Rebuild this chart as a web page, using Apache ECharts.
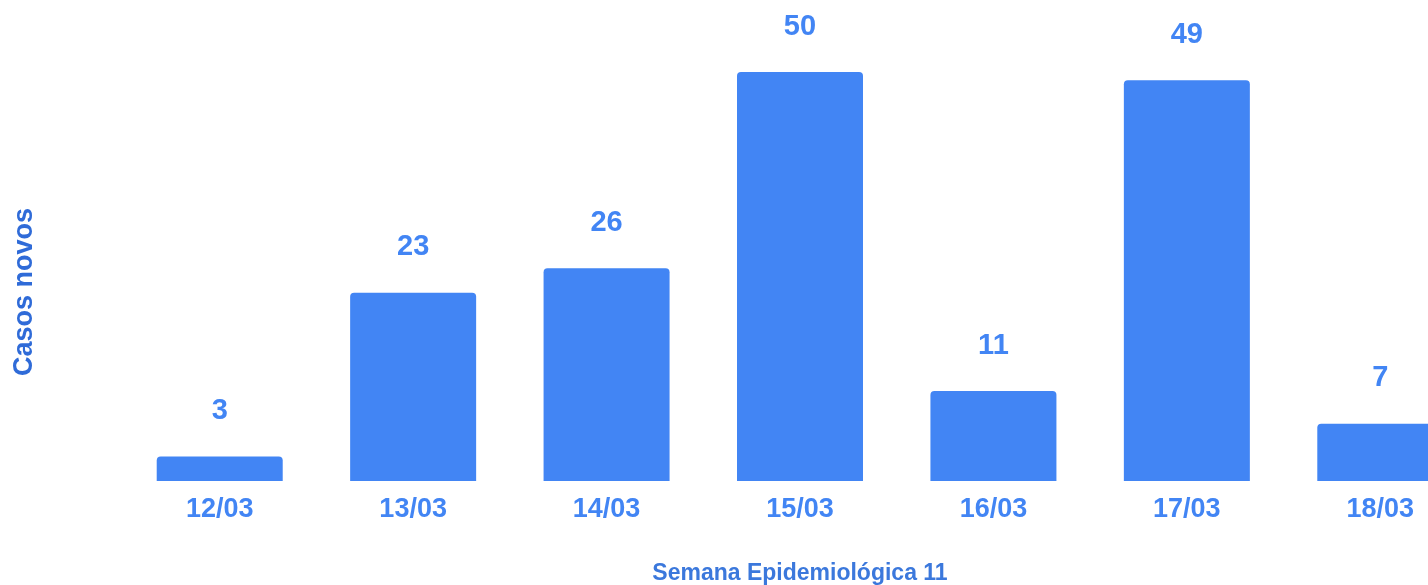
<!DOCTYPE html>
<html><head><meta charset="utf-8">
<script src="https://cdn.jsdelivr.net/npm/echarts@6/dist/echarts.min.js"></script>
<style>html,body{margin:0;padding:0;background:#fff}#c{width:1428px;height:585px}</style>
</head><body><div id="c"></div>
<script>
const categories = ['12/03','13/03','14/03','15/03','16/03','17/03','18/03'];
const casosNovos = [3, 23, 26, 50, 11, 49, 7];
const xAxisTitle = 'Semana Epidemiológica 11';
const yAxisTitle = 'Casos novos';

const chart = echarts.init(document.getElementById('c'));
const font = '"Liberation Sans", Arial, sans-serif';
chart.setOption({
  animation: false,
  grid: { left: 123, right: -49, top: 72, bottom: 104, outerBoundsMode: 'none' },
  xAxis: {
    type: 'category', data: categories,
    axisLine: { show: false }, axisTick: { show: false },
    axisLabel: { color: '#4285F4', fontSize: 27, fontWeight: 'bold', fontFamily: font, margin: 15 },
    name: xAxisTitle, nameLocation: 'middle', nameGap: 81,
    nameTextStyle: { color: '#3b78dc', fontSize: 23, fontWeight: 'bold', fontFamily: font }
  },
  yAxis: {
    type: 'value', min: 0, max: 50,
    axisLine: { show: false }, axisTick: { show: false }, axisLabel: { show: false },
    splitLine: { show: false }
  },
  graphic: [{
    type: 'text', x: 25, y: 292, rotation: Math.PI / 2,
    style: { text: yAxisTitle, fill: '#2f6bd8', font: 'bold 27px ' + font, align: 'center', verticalAlign: 'middle' }
  }],
  series: [{
    type: 'bar', data: casosNovos, barWidth: 126,
    itemStyle: { color: '#4285F4', borderRadius: [4, 4, 0, 0] },
    label: { show: true, position: 'top', distance: 31, color: '#4285F4', fontSize: 29, fontWeight: 'bold', fontFamily: font }
  }]
});
</script></body></html>
